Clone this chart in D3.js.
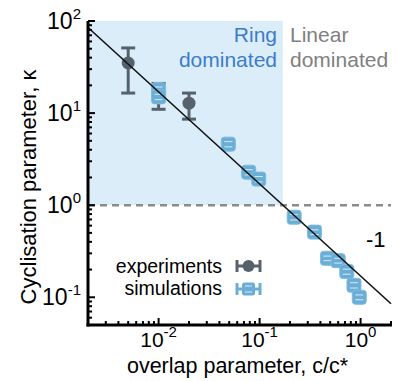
<!DOCTYPE html>
<html>
<head>
<meta charset="utf-8">
<script src="https://cdn.jsdelivr.net/npm/d3@7"></script>
<style>
  body { margin: 0; background: #fff; }
  text { font-family: "Liberation Sans", Arial, sans-serif; }
</style>
</head>
<body>
<svg width="399" height="381"></svg>
<script>
// experiments (grey circles)
const expX = [0.005, 0.01, 0.02];
const expK = [35, 16.5, 12.8];
const expLo = [16.5, 11, 8.6];
const expHi = [51, 21, 16.5];

// simulations (blue squares)
const simX = [0.01, 0.01, 0.049, 0.078, 0.098, 0.22, 0.35, 0.47, 0.6, 0.73, 0.86, 0.97];
const simK = [18, 15, 4.6, 2.28, 1.92, 0.74, 0.51, 0.265, 0.25, 0.19, 0.135, 0.1];
const simLo = [16.8, 14, 4.3, 2.13, 1.79, 0.69, 0.48, 0.25, 0.235, 0.178, 0.126, 0.094];
const simHi = [19.2, 16, 4.9, 2.43, 2.05, 0.79, 0.54, 0.28, 0.265, 0.202, 0.144, 0.106];

// slope -1 guide
const fitX = [0.002, 2];
const fitK = [85, 0.085];

const crossX = 0.17;   // ring / linear boundary
const xTicks = [0.01, 0.1, 1];
const xTickLabels = ["-2", "-1", "0"];
const yTicks = [0.1, 1, 10, 100];
const yTickLabels = ["-1", "0", "1", "2"];

const svg = d3.select('svg');
const mL = 88, mR = 391, mT = 21, mB = 325;

const x = d3.scaleLog().domain([0.002, 2]).range([mL, mR]);
const y = d3.scaleLog().domain([0.05, 100]).range([mB, mT]);

const grey = '#56626b', blue = '#6aaed6';

// shaded ring region
svg.append('rect')
  .attr('x', x(0.002)).attr('y', y(100))
  .attr('width', x(crossX) - x(0.002))
  .attr('height', y(1) - y(100))
  .attr('fill', '#dcedfa');

// kappa = 1 dashed line
svg.append('line')
  .attr('x1', mL).attr('x2', mR)
  .attr('y1', y(1)).attr('y2', y(1))
  .attr('stroke', '#8c8c8c').attr('stroke-width', 2.5)
  .attr('stroke-dasharray', '7,5');

// region labels
const ring = svg.append('text').attr('fill', '#3d7cc9').attr('font-size', 21).attr('text-anchor', 'end');
ring.append('tspan').attr('x', 277).attr('y', 42).text('Ring');
ring.append('tspan').attr('x', 277).attr('y', 67).text('dominated');
const lin = svg.append('text').attr('fill', '#808080').attr('font-size', 21);
lin.append('tspan').attr('x', 290).attr('y', 42).text('Linear');
lin.append('tspan').attr('x', 290).attr('y', 67).text('dominated');

// experiments
const eg = svg.append('g').attr('stroke', grey).attr('stroke-width', 3);
expX.forEach((v, i) => {
  const cx = x(v);
  eg.append('line').attr('x1', cx).attr('x2', cx).attr('y1', y(expLo[i])).attr('y2', y(expHi[i]));
  [expLo[i], expHi[i]].forEach(e => {
    eg.append('line').attr('x1', cx - 7).attr('x2', cx + 7).attr('y1', y(e)).attr('y2', y(e));
  });
  eg.append('circle').attr('cx', cx).attr('cy', y(expK[i])).attr('r', 6.5).attr('fill', grey).attr('stroke', 'none');
});

// simulations
const sg = svg.append('g');
simX.forEach((v, i) => {
  const cx = x(v), cy = y(simK[i]);
  sg.append('rect').attr('x', cx - 7).attr('y', cy - 7).attr('width', 14).attr('height', 14)
    .attr('rx', 3).attr('fill', blue).attr('stroke', '#7fbbe0').attr('stroke-width', 1);
  [simLo[i], simHi[i]].forEach(e => {
    sg.append('line').attr('x1', cx - 4).attr('x2', cx + 4).attr('y1', y(e)).attr('y2', y(e))
      .attr('stroke', '#d6eaf7').attr('stroke-width', 1);
  });
});

// fit line
svg.append('line')
  .attr('x1', x(fitX[0])).attr('y1', y(fitK[0]))
  .attr('x2', x(fitX[1])).attr('y2', y(fitK[1]))
  .attr('stroke', '#111').attr('stroke-width', 1.6);

svg.append('text').attr('x', 366).attr('y', 247).attr('font-size', 22).text('-1');

// legend
svg.append('text').attr('x', 222).attr('y', 273).attr('font-size', 19.5).attr('text-anchor', 'end').text('experiments');
svg.append('text').attr('x', 222).attr('y', 295).attr('font-size', 19.5).attr('text-anchor', 'end').text('simulations');
const lg = svg.append('g').attr('stroke', grey).attr('stroke-width', 3);
lg.append('line').attr('x1', 237).attr('x2', 260).attr('y1', 266).attr('y2', 266);
[237, 260].forEach(px => lg.append('line').attr('x1', px).attr('x2', px).attr('y1', 260).attr('y2', 272));
lg.append('circle').attr('cx', 248.5).attr('cy', 266).attr('r', 6).attr('fill', grey).attr('stroke', 'none');
const lb = svg.append('g').attr('stroke', blue).attr('stroke-width', 3);
lb.append('line').attr('x1', 237).attr('x2', 260).attr('y1', 289).attr('y2', 289);
[237, 260].forEach(px => lb.append('line').attr('x1', px).attr('x2', px).attr('y1', 283).attr('y2', 295));
lb.append('rect').attr('x', 242).attr('y', 282.5).attr('width', 13).attr('height', 13).attr('rx', 2.5)
  .attr('fill', blue).attr('stroke', 'none');
[286, 292].forEach(py => lb.append('line').attr('x1', 245).attr('x2', 252).attr('y1', py).attr('y2', py)
  .attr('stroke', '#d6eaf7').attr('stroke-width', 1));

// axes: inward ticks
const yAll = [];
for (let d = -2; d <= 1; d++) for (let m = 1; m <= 9; m++) {
  const v = m * Math.pow(10, d);
  if (v >= 0.05 && v <= 100) yAll.push(v);
}
yAll.push(100);
const xAll = [];
for (let d = -3; d <= 0; d++) for (let m = 1; m <= 9; m++) {
  const v = m * Math.pow(10, d);
  if (v >= 0.002 && v <= 2) xAll.push(v);
}
const isMajor = v => Math.abs(Math.log10(v) - Math.round(Math.log10(v))) < 1e-6;

const ax = svg.append('g').attr('stroke', '#000');
yAll.forEach(v => ax.append('line').attr('x1', mL).attr('x2', mL + (isMajor(v) ? 7 : 4))
  .attr('y1', y(v)).attr('y2', y(v)).attr('stroke-width', 2));
xAll.forEach(v => ax.append('line').attr('x1', x(v)).attr('x2', x(v))
  .attr('y1', mB).attr('y2', mB - (isMajor(v) ? 7 : 4)).attr('stroke-width', 2));
ax.append('line').attr('x1', mL).attr('x2', mL).attr('y1', mT).attr('y2', mB + 1.5).attr('stroke-width', 3);
ax.append('line').attr('x1', mL - 1.5).attr('x2', mR + 1).attr('y1', mB).attr('y2', mB).attr('stroke-width', 3);

// tick labels
yTicks.forEach((v, i) => {
  const t = svg.append('text').attr('x', 81).attr('y', y(v) + 8).attr('font-size', 23).attr('text-anchor', 'end');
  t.append('tspan').text('10');
  t.append('tspan').attr('font-size', 15).attr('dy', -10).text(yTickLabels[i]);
});
xTicks.forEach((v, i) => {
  const t = svg.append('text').attr('x', x(v)).attr('y', 347).attr('font-size', 21).attr('text-anchor', 'middle');
  t.append('tspan').text('10');
  t.append('tspan').attr('font-size', 15).attr('dy', -10).text(xTickLabels[i]);
});

// axis titles
svg.append('text').attr('x', (mL + mR) / 2 - 2).attr('y', 373).attr('font-size', 21.5)
  .attr('text-anchor', 'middle').text('overlap parameter, c/c*');
svg.append('text').attr('transform', `translate(36,${(mT + mB) / 2 + 14}) rotate(-90)`)
  .attr('font-size', 22).attr('text-anchor', 'middle').text('Cyclisation parameter, κ');
</script>
</body>
</html>
